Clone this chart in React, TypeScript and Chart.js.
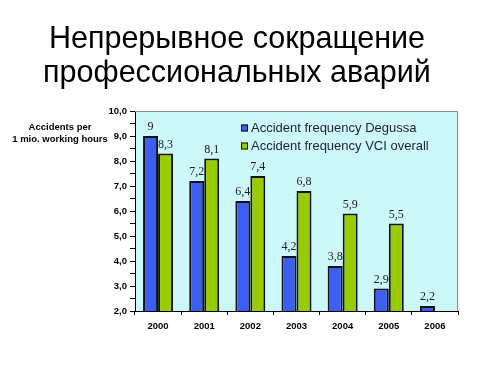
import React, { useEffect, useRef } from 'react';
import { Chart, registerables } from 'chart.js';

Chart.register(...registerables);

const titleLines = ['Непрерывное сокращение', 'профессиональных аварий'];
const axisTitleLines = ['Accidents per', '1 mio. working hours'];
const categories = ['2000', '2001', '2002', '2003', '2004', '2005', '2006'];
const degussa: (number | null)[] = [9, 7.2, 6.4, 4.2, 3.8, 2.9, 2.2];
const vci: (number | null)[] = [8.3, 8.1, 7.4, 6.8, 5.9, 5.5, null];
const seriesNames = ['Accident frequency Degussa', 'Accident frequency VCI overall'];
const yMin = 2;
const yMax = 10;
const yStep = 0.5;

const BLUE = '#3d5ef2';
const GREEN = '#99cc00';
const PLOT_BG = '#cdf8fa';

const fmtLabel = (v: number) => (Number.isInteger(v) ? String(v) : v.toFixed(1).replace('.', ','));
const fmtTick = (v: number) => v.toFixed(1).replace('.', ',');

const decorPlugin = {
  id: 'decor',
  beforeDraw(chart: any) {
    const { ctx, chartArea: a, width, height } = chart;
    ctx.save();
    ctx.fillStyle = '#ffffff';
    ctx.fillRect(0, 0, width, height);
    ctx.fillStyle = PLOT_BG;
    ctx.fillRect(a.left, a.top, a.right - a.left, a.bottom - a.top);
    ctx.restore();
  },
  afterDatasetsDraw(chart: any) {
    const { ctx } = chart;
    ctx.save();
    ctx.font = '12px "Liberation Serif", "DejaVu Serif", serif';
    ctx.fillStyle = '#1a1a1a';
    ctx.textAlign = 'center';
    ctx.textBaseline = 'alphabetic';
    chart.data.datasets.forEach((ds: any, di: number) => {
      const meta = chart.getDatasetMeta(di);
      meta.data.forEach((el: any, i: number) => {
        const v = ds.data[i];
        if (v === null || v === undefined) return;
        ctx.fillText(fmtLabel(v), el.x, el.y - 6);
      });
    });
    ctx.restore();
  },
  afterDraw(chart: any) {
    const { ctx, chartArea: a } = chart;
    ctx.save();
    // plot frame (top and right)
    ctx.strokeStyle = '#8a8a8a';
    ctx.lineWidth = 1;
    ctx.beginPath();
    ctx.moveTo(a.left, a.top + 0.5);
    ctx.lineTo(a.right - 0.5, a.top + 0.5);
    ctx.lineTo(a.right - 0.5, a.bottom);
    ctx.stroke();

    // title
    ctx.fillStyle = '#000000';
    ctx.font = '30.5px "Liberation Sans", Arial, sans-serif';
    ctx.textAlign = 'center';
    ctx.textBaseline = 'alphabetic';
    ctx.fillText(titleLines[0], 237, 48);
    ctx.fillText(titleLines[1], 237, 82);

    // axis title
    ctx.font = 'bold 9.5px "Liberation Sans", Arial, sans-serif';
    ctx.textBaseline = 'middle';
    ctx.fillText(axisTitleLines[0], 60, 127);
    ctx.fillText(axisTitleLines[1], 60, 139);

    // legend
    const colors = [BLUE, GREEN];
    ctx.font = '13px "Liberation Sans", Arial, sans-serif';
    ctx.textAlign = 'left';
    seriesNames.forEach((name, i) => {
      const y = a.top + 17 + i * 18;
      ctx.fillStyle = colors[i];
      ctx.fillRect(a.left + 106, y - 3.5, 7, 7);
      ctx.strokeStyle = '#111111';
      ctx.lineWidth = 1;
      ctx.strokeRect(a.left + 106 + 0.5, y - 3.5 + 0.5, 6, 6);
      ctx.fillStyle = '#1c1c3c';
      ctx.fillText(name, a.left + 116, y + 0.5);
    });
    ctx.restore();
  },
};

export default function App() {
  const ref = useRef<HTMLCanvasElement | null>(null);

  useEffect(() => {
    if (!ref.current) return;
    const chart = new Chart(ref.current, {
      type: 'bar',
      data: {
        labels: categories,
        datasets: [
          {
            label: seriesNames[0],
            data: degussa,
            backgroundColor: BLUE,
            borderColor: '#111111',
            borderWidth: 2,
            categoryPercentage: 0.65,
            barPercentage: 1,
          },
          {
            label: seriesNames[1],
            data: vci,
            backgroundColor: GREEN,
            borderColor: '#111111',
            borderWidth: 2,
            categoryPercentage: 0.65,
            barPercentage: 1,
          },
        ],
      },
      options: {
        responsive: false,
        animation: false,
        layout: { padding: { top: 111, right: 42, bottom: 45, left: 0 } },
        plugins: {
          legend: { display: false },
          title: { display: false },
          tooltip: { enabled: false },
        },
        scales: {
          x: {
            grid: { drawOnChartArea: false, drawTicks: true, tickLength: 4, color: '#000000', offset: true },
            border: { color: '#000000', width: 1 },
            ticks: {
              color: '#000000',
              font: { family: '"Liberation Sans", Arial, sans-serif', weight: 'bold', size: 9.5 },
              padding: 6,
            },
            afterFit: (s: any) => {
              s.height = 30;
            },
          },
          y: {
            min: yMin,
            max: yMax,
            grid: { drawOnChartArea: false, drawTicks: true, tickLength: 5, color: '#000000' },
            border: { color: '#000000', width: 1 },
            ticks: {
              stepSize: yStep,
              autoSkip: false,
              color: '#000000',
              padding: 3,
              font: { family: '"Liberation Sans", Arial, sans-serif', weight: 'bold', size: 9.5 },
              callback: (v: any) => (Number.isInteger(v) ? fmtTick(v) : ''),
            },
            afterFit: (s: any) => {
              s.width = 135;
            },
          },
        },
      },
      plugins: [decorPlugin],
    });
    return () => chart.destroy();
  }, []);

  return (
    <div style={{ position: 'absolute', left: 0, top: 0, width: 500, height: 386 }}>
      <canvas ref={ref} width={500} height={386} style={{ display: 'block' }} />
    </div>
  );
}
